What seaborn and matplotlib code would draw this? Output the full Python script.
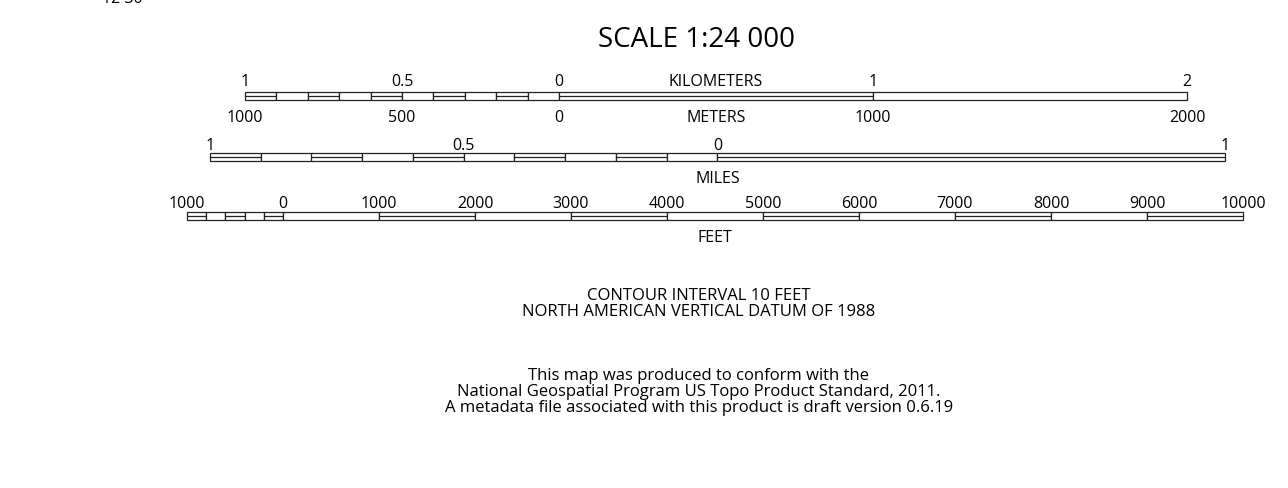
import matplotlib
matplotlib.use("Agg")
import matplotlib.pyplot as plt
import seaborn as sns
import numpy as np

sns.set_style("white")
plt.rcParams['font.family'] = ['Open Sans', 'DejaVu Sans']
plt.rcParams['text.color'] = 'black'

# ---- scale bar data ----
km_edges = [-1000, -900, -800, -700, -600, -500, -400, -300, -200, -100, 0, 1000, 2000]
km_split = [1, 0, 1, 0, 1, 0, 1, 0, 1, 0, 1, 0]
km_top_pos = [-1000, -500, 0, 1000, 2000]
km_top_lbl = ['1', '0.5', '0', '1', '2']
km_bot_lbl = ['1000', '500', '0', '1000', '2000']

mi_edges = [-1.0, -0.9, -0.8, -0.7, -0.6, -0.5, -0.4, -0.3, -0.2, -0.1, 0.0, 1.0]
mi_split = [1, 0, 1, 0, 1, 0, 1, 0, 1, 0, 1]
mi_top_pos = [-1.0, -0.5, 0.0, 1.0]
mi_top_lbl = ['1', '0.5', '0', '1']

ft_edges = [-1000, -800, -600, -400, -200, 0, 1000, 2000, 3000, 4000, 5000,
            6000, 7000, 8000, 9000, 10000]
ft_split = [1, 0, 1, 0, 1, 0, 1, 0, 1, 0, 1, 0, 1, 0, 1]
ft_top_pos = [-1000, 0, 1000, 2000, 3000, 4000, 5000, 6000, 7000, 8000, 9000, 10000]
ft_top_lbl = ['1000', '0', '1000', '2000', '3000', '4000', '5000', '6000',
              '7000', '8000', '9000', '10000']

title = 'SCALE 1:24 000'
notes = ['CONTOUR INTERVAL 10 FEET',
         'NORTH AMERICAN VERTICAL DATUM OF 1988',
         'This map was produced to conform with the',
         'National Geospatial Program US Topo Product Standard, 2011.',
         'A metadata file associated with this product is draft version 0.6.19']

W, H = 1288, 488
LBL = 11.5
EDGE = '#222222'

fig = plt.figure(figsize=(W / 100, H / 100), dpi=100)


def px_axes(x0, y0, x1, y1):
    # axes placed by pixel box (top-left origin)
    return fig.add_axes([x0 / W, 1 - y1 / H, (x1 - x0) / W, (y1 - y0) / H])


def draw_bar(ax, edges, split):
    edges = np.array(edges, dtype=float)
    ax.barh(0.5, np.diff(edges), left=edges[:-1], height=1.0, color='white',
            edgecolor=EDGE, linewidth=0.9, clip_on=False)
    for a, b, s in zip(edges[:-1], edges[1:], split):
        if s:
            ax.hlines(0.5, a, b, color=EDGE, linewidth=0.9, clip_on=False)
    ax.set_xlim(edges[0], edges[-1])
    ax.set_ylim(0, 1)
    ax.set_axis_off()


def label(ax, x, text, above=True, off=4.0):
    y = 1 if above else 0
    ax.annotate(text, xy=(x, y), xycoords=ax.get_xaxis_transform(),
                xytext=(0, off), textcoords='offset points',
                ha='center', va='baseline', fontsize=LBL, color='black',
                annotation_clip=False)


# kilometers / meters
ax_km = px_axes(245, 92.3, 1187, 100.3)
draw_bar(ax_km, km_edges, km_split)
for x, t in zip(km_top_pos, km_top_lbl):
    label(ax_km, x, t, True, 4.2)
for x, t in zip(km_top_pos, km_bot_lbl):
    label(ax_km, x, t, False, -15.6)
label(ax_km, 500, 'KILOMETERS', True, 4.2)
label(ax_km, 500, 'METERS', False, -15.6)

# miles
ax_mi = px_axes(210, 153.3, 1225, 161.3)
draw_bar(ax_mi, mi_edges, mi_split)
for x, t in zip(mi_top_pos, mi_top_lbl):
    label(ax_mi, x, t, True, 2.7)
label(ax_mi, 0.0, 'MILES', False, -15.3)

# feet
ax_ft = px_axes(187, 212.3, 1243, 220.3)
draw_bar(ax_ft, ft_edges, ft_split)
for x, t in zip(ft_top_pos, ft_top_lbl):
    label(ax_ft, x, t, True, 3.1)
label(ax_ft, 4500, 'FEET', False, -15.4)

# title and notes
fig.text(697 / W, 1 - 47 / H, title, ha='center', va='baseline', fontsize=20)
note_y = [300, 316, 380, 396, 412]
for y, t in zip(note_y, notes):
    fig.text(699 / W, 1 - y / H, t, ha='center', va='baseline', fontsize=12)

# clipped fragment at the top-left edge
fig.text(122 / W, 1 - 3 / H, '12 30', ha='center', va='baseline', fontsize=LBL)

fig.savefig('out.png', dpi=100)
